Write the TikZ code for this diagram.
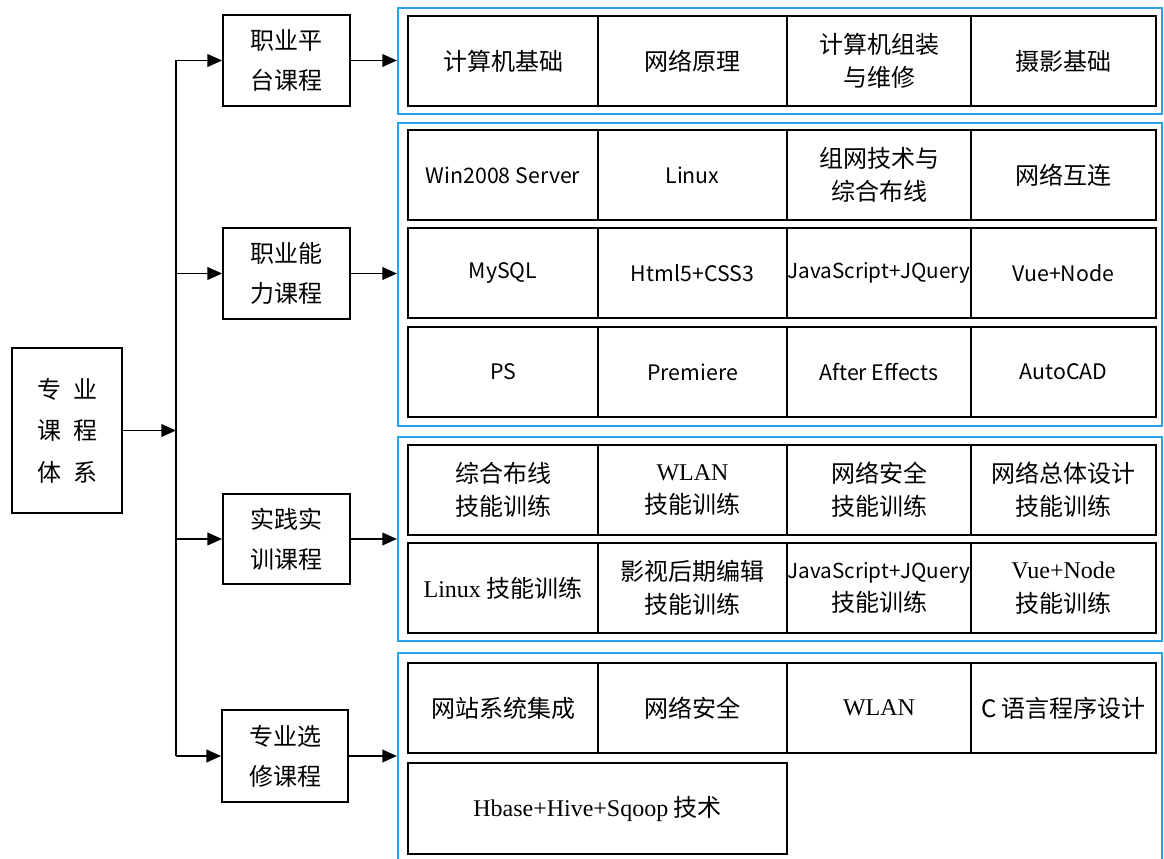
\documentclass[tikz,border=0pt]{standalone}
\usepackage{fontspec}
\setmainfont{Noto Sans CJK SC}
\newfontfamily\serifL{Liberation Serif}
\usetikzlibrary{arrows.meta}
\definecolor{grpblue}{RGB}{38,162,230}
\newcommand\latn{\fontsize{16}{25}\selectfont}
\newcommand\latns{\fontsize{15.5}{25}\selectfont}
\newcommand\mkbox[7][cell]{\node[#1,minimum width={(#5-#3)*0.75pt},minimum height={(#6-#4)*0.75pt}] (#2) at ({(#3+#5)/2},{(#4+#6)/2}) {#7};}
\tikzset{
  cell/.style={draw=black, line width=1.4pt, inner sep=0pt, align=center, font=\fontsize{18}{25}\selectfont},
  lvl/.style={draw=black, line width=1.4pt, inner sep=0pt, align=center, font=\fontsize{18}{30}\selectfont},
  mainbox/.style={draw=black, line width=1.4pt, inner sep=0pt, align=center, font=\fontsize{18}{31}\selectfont},
  grp/.style={draw=grpblue, line width=1.6pt, inner sep=0pt},
  arr/.style={line width=1.4pt, -{Triangle[length=11pt,width=9.5pt]}},
  conn/.style={line width=1.4pt},
}
\begin{document}
\begin{tikzpicture}[x=0.75pt,y=-0.75pt]
\clip (0,0) rectangle (1164,859);
\fill[white] (0,0) rectangle (1164,859);
% blue groups
\mkbox[grp]{g1}{398}{8}{1162}{114}{}
\mkbox[grp]{g2}{398}{123}{1162}{426}{}
\mkbox[grp]{g3}{398}{437}{1162}{641}{}
\mkbox[grp]{g4}{398}{653}{1162}{880}{}
% main and level-2 boxes
\mkbox[mainbox]{main}{12}{348}{122}{513}{专\hspace{0.5em}业\\课\hspace{0.5em}程\\体\hspace{0.5em}系}
\mkbox[lvl]{p1}{223}{15}{350}{106}{职业平\\台课程}
\mkbox[lvl]{p2}{223}{228}{350}{319}{职业能\\力课程}
\mkbox[lvl]{p3}{223}{494}{350}{584}{实践实\\训课程}
\mkbox[lvl]{p4}{222}{710}{348}{802}{专业选\\修课程}
% group 1
\mkbox{a1}{408}{16}{598}{106}{计算机基础}
\mkbox{a2}{598}{16}{787}{106}{网络原理}
\mkbox{a3}{787}{16}{971}{106}{计算机组装\\与维修}
\mkbox{a4}{971}{16}{1156}{106}{摄影基础}
% group 2
\mkbox{b1}{408}{130}{598}{220}{\latn Win2008 Server}
\mkbox{b2}{598}{130}{787}{220}{\latn Linux}
\mkbox{b3}{787}{130}{971}{220}{组网技术与\\综合布线}
\mkbox{b4}{971}{130}{1156}{220}{网络互连}
\mkbox{b5}{408}{228}{598}{318}{\latn MySQL}
\mkbox{b6}{598}{228}{787}{318}{\latn Html5+CSS3}
\mkbox{b7}{787}{228}{971}{318}{\latns JavaScript+JQuery}
\mkbox{b8}{971}{228}{1156}{318}{\latn Vue+Node}
\mkbox{b9}{408}{327}{598}{417}{\latn PS}
\mkbox{b10}{598}{327}{787}{417}{\latn Premiere}
\mkbox{b11}{787}{327}{971}{417}{\latn After Effects}
\mkbox{b12}{971}{327}{1156}{417}{\latn AutoCAD}
% group 3
\mkbox{c1}{408}{445}{598}{535}{综合布线\\技能训练}
\mkbox{c2}{598}{445}{787}{535}{{\serifL WLAN}\\技能训练}
\mkbox{c3}{787}{445}{971}{535}{网络安全\\技能训练}
\mkbox{c4}{971}{445}{1156}{535}{网络总体设计\\技能训练}
\mkbox{c5}{408}{543}{598}{633}{{\serifL Linux} 技能训练}
\mkbox{c6}{598}{543}{787}{633}{影视后期编辑\\技能训练}
\mkbox{c7}{787}{543}{971}{633}{{\latns JavaScript+JQuery}\\技能训练}
\mkbox{c8}{971}{543}{1156}{633}{{\serifL Vue+Node}\\技能训练}
% group 4
\mkbox{d1}{408}{663}{598}{753}{网站系统集成}
\mkbox{d2}{598}{663}{787}{753}{网络安全}
\mkbox{d3}{787}{663}{971}{753}{{\serifL WLAN}}
\mkbox{d4}{971}{663}{1156}{753}{C 语言程序设计}
\mkbox{d5}{408}{763}{787}{854}{{\serifL Hbase+Hive+Sqoop} 技术}
% connectors
\coordinate (spine) at (176,0);
\draw[conn] (p1.west -| spine) -- (p4.west -| spine);
\draw[arr] (main.east) -- (main.east -| spine);
\foreach \p/\g in {p1/g1,p2/g2,p3/g3,p4/g4}{
  \draw[arr] (\p.west -| spine) -- (\p.west);
  \draw[arr] (\p.east) -- (\p.east -| \g.west);
}
\end{tikzpicture}
\end{document}
